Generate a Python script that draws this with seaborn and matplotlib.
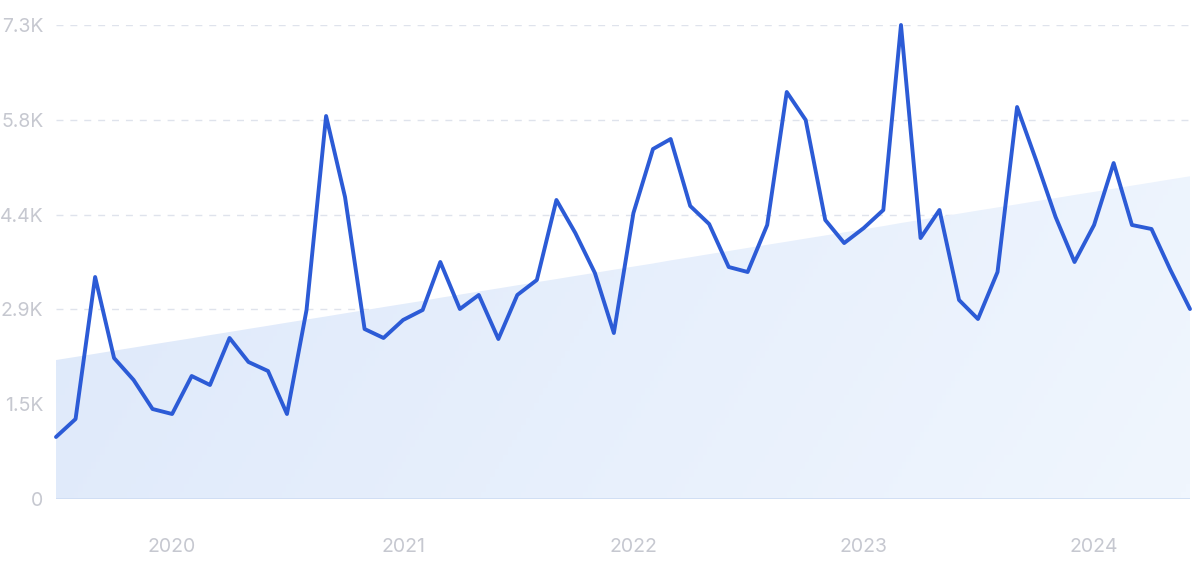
import numpy as np
import pandas as pd
import matplotlib
matplotlib.use('Agg')
import matplotlib.pyplot as plt
from matplotlib.colors import LinearSegmentedColormap
from matplotlib.ticker import FixedLocator
import seaborn as sns

# 月度搜索量 (2019-07 .. 2024-06)
months = pd.date_range('2019-07-01', periods=60, freq='MS')
volume = [955, 1232, 3419, 2171, 1833, 1386,
          1309, 1894, 1756, 2480, 2110, 1971, 1309, 2911, 5898, 4651, 2618, 2480,
          2757, 2911, 3650, 2926, 3142, 2464, 3142, 3373, 4605, 4096, 3480, 2556,
          4404, 5390, 5544, 4513, 4235, 3573, 3496, 4220, 6268, 5837, 4297, 3942,
          4173, 4451, 7300, 4019, 4451, 3065, 2772, 3496, 6037, 5221, 4343, 3650,
          4220, 5174, 4220, 4158, 3527, 2926]
trend_start = 2140
trend_end = 4970
y_ticks = [0, 1460, 2920, 4380, 5840, 7300]
y_labels = ['0', '1.5K', '2.9K', '4.4K', '5.8K', '7.3K']
year_labels = ['2020', '2021', '2022', '2023', '2024']

df = pd.DataFrame({'month': months, 'volume': volume})
df['trend'] = np.linspace(trend_start, trend_end, len(df))

sns.set_theme(style='white')
plt.rcParams['font.family'] = ['Inter', 'DejaVu Sans']

fig = plt.figure(figsize=(12, 5.61), dpi=100)
ax = fig.add_axes([56 / 1200, 1 - 499 / 561, (1190 - 56) / 1200, (499 - 25) / 561])

xnum = matplotlib.dates.date2num(df['month'])
x0, x1 = xnum[0], xnum[-1]

# 趋势区域 (渐变填充)
poly = ax.fill_between(df['month'], 0, df['trend'], color='none', lw=0)
cmap = LinearSegmentedColormap.from_list('fill', ['#dde8fa', '#f0f6fe'])
gx, gy = np.meshgrid(np.linspace(0, 1, 256), np.linspace(0, 1, 64))
grad = 0.8 * gx + 0.2 * (1 - gy)
im = ax.imshow(grad, cmap=cmap, aspect='auto', extent=[x0, x1, 0, 7300],
               origin='lower', zorder=1)
im.set_clip_path(poly.get_paths()[0], transform=ax.transData)

# 网格线
for t in y_ticks[1:]:
    ax.axhline(t, color='#dfe3ec', lw=1, ls=(0, (5, 5)), zorder=0.5)
ax.axhline(0, color='#cddcf3', lw=1.2, zorder=2)

sns.lineplot(data=df, x='month', y='volume', ax=ax, color='#2c5bd6',
             linewidth=2.8, zorder=3, clip_on=False)

ax.set_xlim(x0, x1)
ax.set_ylim(0, 7300)
ax.yaxis.set_major_locator(FixedLocator(y_ticks))
ax.set_yticklabels(y_labels)
year_pos = [matplotlib.dates.date2num(pd.Timestamp(f'{y}-01-01')) for y in year_labels]
ax.set_xticks(year_pos)
ax.set_xticklabels(year_labels)
ax.tick_params(axis='both', length=0, labelsize=14, colors='#c6c8d0')
ax.tick_params(axis='x', pad=28)
ax.tick_params(axis='y', pad=9)
ax.set_xlabel('')
ax.set_ylabel('')
for s in ax.spines.values():
    s.set_visible(False)
ax.grid(False)

fig.savefig('out.png', dpi=100)
